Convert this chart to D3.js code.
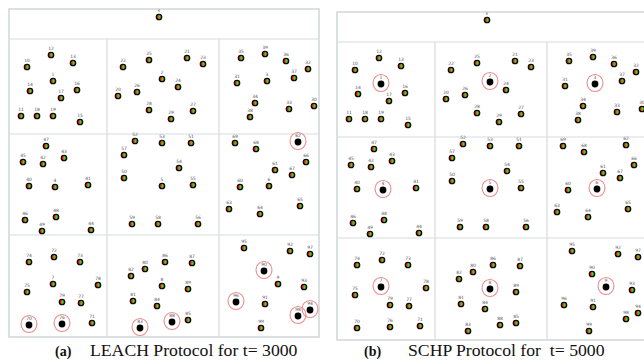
<!DOCTYPE html>
<html>
<head>
<meta charset="utf-8">
<script src="https://cdn.jsdelivr.net/npm/d3@7"></script>
<style>
  body { margin: 0; background: #fff; }
  svg { display: block; }
</style>
</head>
<body>
<div id="chart"></div>
<script>
// field is 310 x 328 (m); top strip holds the sink, below it a 3x3 grid
const colBreaks = [0, 98, 210, 310]
const rowBreaks = [0, 30, 125, 226, 328]

const sinkLabel = 's'
const sinkPos = [150, 8]

// node ids 1..99, positions (same deployment in both runs)
const nodeX = [
  44, 153, 258, 46, 153, 260, 44, 153, 269,
  18, 12, 42, 64, 21, 71, 68, 52, 28, 44,
  109, 178, 114, 194, 169, 140, 128, 184, 140, 162,
  305, 228, 299, 280, 246, 232, 277, 285, 241, 256,
  20, 79, 34, 55, 82, 14, 16, 37, 47, 33,
  115, 182, 126, 153, 170, 184, 189, 115, 149, 123,
  231, 266, 289, 220, 251, 291, 297, 283, 247, 226,
  20, 83, 45, 71, 20, 18, 53, 72, 89, 53,
  136, 124, 122, 131, 148, 179, 156, 183, 163, 179,
  255, 256, 281, 295, 301, 235, 227, 301, 289, 252
]
const nodeY = [
  72, 70, 72, 178, 177, 177, 275, 277, 275,
  58, 107, 46, 54, 82, 113, 81, 89, 107, 107,
  87, 49, 58, 55, 78, 51, 83, 102, 101, 110,
  97, 74, 60, 100, 94, 49, 52, 69, 108, 45,
  177, 176, 155, 149, 221, 153, 211, 137, 208, 222,
  169, 134, 132, 134, 159, 176, 215, 146, 215, 215,
  178, 161, 133, 200, 205, 197, 153, 166, 140, 134,
  316, 314, 248, 253, 253, 283, 315, 294, 276, 293,
  260, 292, 267, 319, 297, 311, 253, 254, 313, 280,
  262, 295, 242, 278, 301, 239, 293, 245, 307, 319
]

const leachHeads = [62, 70, 76, 83, 88, 90, 94, 96, 98]
const schpHeads = [1, 2, 3, 4, 5, 6, 7, 8, 9]

const panels = [
  { tag: '(a)', title: 'LEACH Protocol for t= 3000', heads: leachHeads, left: 9, top: 9, tagX: 55, titleX: 90 },
  { tag: '(b)', title: 'SCHP Protocol for  t= 5000', heads: schpHeads, left: 337, top: 12, tagX: 364, titleX: 408 }
]

const W = 644
const H = 360
const fieldW = 310
const fieldH = 328

const nodes = nodeX.map((x, i) => ({ id: i + 1, x: x, y: nodeY[i] }))

const svg = d3.select('#chart').append('svg')
  .attr('width', W)
  .attr('height', H)

const grad = svg.append('defs').append('linearGradient')
  .attr('id', 'battery')
  .attr('x1', 0).attr('x2', 1).attr('y1', 0).attr('y2', 0)
grad.append('stop').attr('offset', '0%').attr('stop-color', '#e0201a')
grad.append('stop').attr('offset', '38%').attr('stop-color', '#e0201a')
grad.append('stop').attr('offset', '48%').attr('stop-color', '#f2e21c')
grad.append('stop').attr('offset', '62%').attr('stop-color', '#3cc21e')
grad.append('stop').attr('offset', '100%').attr('stop-color', '#1f9a12')

panels.forEach(p => {
  const x = d3.scaleLinear([0, fieldW], [p.left, p.left + fieldW])
  const y = d3.scaleLinear([0, fieldH], [p.top, p.top + fieldH])
  const g = svg.append('g')

  // frame + grid
  g.append('rect')
    .attr('x', x(0)).attr('y', y(0))
    .attr('width', x(fieldW) - x(0)).attr('height', y(fieldH) - y(0))
    .attr('fill', 'none')
    .attr('stroke', '#cfd7d9')
    .attr('stroke-width', 1.5)

  g.selectAll('line.row')
    .data(rowBreaks.slice(1, -1))
    .enter().append('line')
    .attr('x1', x(0)).attr('x2', x(fieldW))
    .attr('y1', d => y(d)).attr('y2', d => y(d))
    .attr('stroke', '#d6dcdc').attr('stroke-width', 1.2)

  g.selectAll('line.col')
    .data(colBreaks.slice(1, -1))
    .enter().append('line')
    .attr('x1', d => x(d)).attr('x2', d => x(d))
    .attr('y1', y(rowBreaks[1])).attr('y2', y(fieldH))
    .attr('stroke', '#d6dcdc').attr('stroke-width', 1.2)

  const isHead = d => p.heads.includes(d.id)
  const all = nodes.concat([{ id: sinkLabel, x: sinkPos[0], y: sinkPos[1] }])

  // cluster-head rings
  g.selectAll('ellipse.ring')
    .data(nodes.filter(isHead))
    .enter().append('ellipse')
    .attr('cx', d => x(d.x)).attr('cy', d => y(d.y) - 1)
    .attr('rx', 8).attr('ry', 8.5)
    .attr('fill', 'none')
    .attr('stroke', '#f08a8a')
    .attr('stroke-width', 1.1)

  g.selectAll('circle.node')
    .data(all)
    .enter().append('circle')
    .attr('cx', d => x(d.x)).attr('cy', d => y(d.y))
    .attr('r', d => isHead(d) ? 3.4 : 2.7)
    .attr('fill', d => isHead(d) ? '#000' : 'url(#battery)')
    .attr('stroke', '#0a0a0a')
    .attr('stroke-width', d => isHead(d) ? 0 : 1.3)

  g.selectAll('text.lbl')
    .data(all)
    .enter().append('text')
    .attr('x', d => x(d.x)).attr('y', d => y(d.y) - 4.8)
    .attr('text-anchor', 'middle')
    .attr('font-family', 'DejaVu Sans, sans-serif')
    .attr('font-size', 4.5)
    .attr('fill', '#555')
    .text(d => d.id)

  // caption
  svg.append('text')
    .attr('x', p.tagX).attr('y', 356)
    .attr('font-family', 'Liberation Serif, Times New Roman, serif')
    .attr('font-weight', 'bold')
    .attr('font-size', 14)
    .attr('fill', '#111')
    .text(p.tag)
  svg.append('text')
    .attr('x', p.titleX).attr('y', 356)
    .attr('font-family', 'Liberation Serif, Times New Roman, serif')
    .attr('font-size', 17.7)
    .attr('fill', '#111')
    .attr('xml:space', 'preserve')
    .style('white-space', 'pre')
    .text(p.title)
})
</script>
</body>
</html>
